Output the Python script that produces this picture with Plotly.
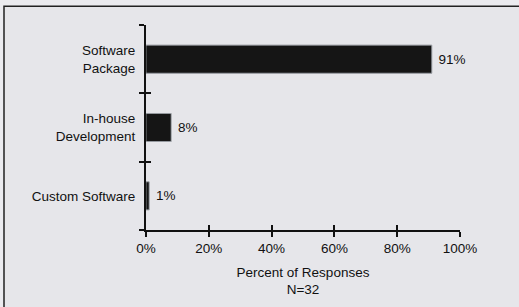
import plotly.graph_objects as go

categories = ["Software<br>Package", "In-house<br>Development", "Custom Software"]
values = [91, 8, 1]
labels = ["\u00a091%", "\u00a08%", "\u00a01%"]
xticks = [0, 20, 40, 60, 80, 100]
xticklabels = ["0%", "20%", "40%", "60%", "80%", "100%"]

W, H = 519, 307
L, R, T, B = 146, 59, 25, 75

fig = go.Figure()
fig.add_trace(go.Bar(
    y=categories, x=values, orientation="h",
    marker=dict(color="#151515", line=dict(color="#151515", width=0.5)),
    width=0.41,
    text=labels, textposition="outside", cliponaxis=False,
    textfont=dict(family="Liberation Sans, Arial", size=13.5, color="#111"),
    showlegend=False, hoverinfo="skip",
))
# invisible twin trace to drive overlay axes (for crossing ticks)
fig.add_trace(go.Bar(
    y=categories, x=values, orientation="h", width=0.41,
    marker=dict(color="rgba(0,0,0,0)"), xaxis="x2", yaxis="y2",
    showlegend=False, hoverinfo="skip",
))

font = dict(family="Liberation Sans, Arial", size=13.5, color="#111")
yrange = [-0.5, len(categories) - 0.5]

fig.update_layout(
    width=W, height=H,
    margin=dict(l=L, r=R, t=T, b=B, pad=0),
    paper_bgcolor="#ebebef", plot_bgcolor="rgba(0,0,0,0)",
    font=font, barmode="overlay",
    xaxis=dict(
        range=[0, 100], tickvals=xticks, ticktext=xticklabels,
        ticks="outside", ticklen=5, tickwidth=1.5, tickcolor="#111",
        showline=True, linecolor="#111", linewidth=2,
        showgrid=False, zeroline=False,
        title=dict(text="Percent of Responses<br>N=32", font=font, standoff=12),
        tickfont=font,
    ),
    yaxis=dict(
        categoryorder="array", categoryarray=categories[::-1], range=yrange,
        tickson="boundaries", ticks="outside", ticklen=5, tickwidth=1.5, tickcolor="#111",
        showline=True, linecolor="#111", linewidth=2,
        showgrid=False, zeroline=False, tickfont=font, ticklabelstandoff=6,
    ),
    xaxis2=dict(
        overlaying="x", range=[0, 100], tickvals=xticks,
        ticks="inside", ticklen=5, tickwidth=1.5, tickcolor="#111",
        showticklabels=False, showgrid=False, zeroline=False, showline=False,
        side="bottom",
    ),
    yaxis2=dict(
        overlaying="y", categoryorder="array", categoryarray=categories[::-1], range=yrange,
        tickson="boundaries", ticks="inside", ticklen=5, tickwidth=1.5, tickcolor="#111",
        showticklabels=False, showgrid=False, zeroline=False, showline=False,
        side="left",
    ),
    shapes=[dict(
        type="rect", xref="paper", yref="paper",
        x0=(4 - L) / (W - L - R), x1=(530 - L) / (W - L - R),
        y0=(H - B - 320) / (H - T - B), y1=(H - B - 6) / (H - T - B),
        line=dict(color="#222", width=1.5), fillcolor="#e6e6ea", layer="below",
    )],
)

fig.write_html(
    "out.html",
    config={"displayModeBar": False},
    post_script="document.body.style.margin='0';document.body.style.background='#ebebef';",
)
